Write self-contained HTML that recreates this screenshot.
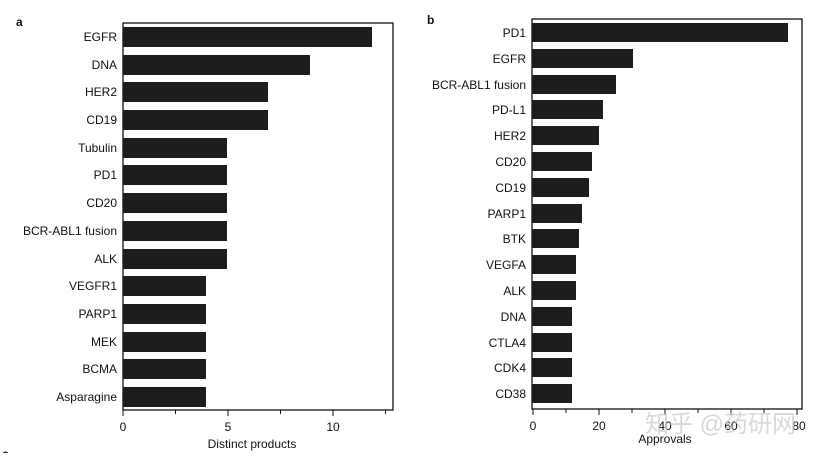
<!DOCTYPE html>
<html><head><meta charset="utf-8"><style>
body{margin:0;background:#fff;}
svg text{font-family:"Liberation Sans",Arial,sans-serif;font-size:12px;fill:#111;}
</style></head><body>
<svg width="820" height="453" viewBox="0 0 820 453" xmlns="http://www.w3.org/2000/svg">
<rect width="820" height="453" fill="#fff"/>
<text x="16" y="26" style="font-weight:bold">a</text>
<text x="427" y="24" style="font-weight:bold">b</text>
<text x="2" y="458" style="font-weight:bold">c</text>
<!-- chart a -->
<rect x="123" y="23" width="270" height="387" fill="none" stroke="#111" stroke-width="1.3"/>
<g fill="#1e1c1d">
<rect x="123" y="27" width="249" height="20"/>
<rect x="123" y="55" width="187" height="20"/>
<rect x="123" y="82" width="145" height="20"/>
<rect x="123" y="110" width="145" height="20"/>
<rect x="123" y="138" width="104" height="20"/>
<rect x="123" y="165" width="104" height="20"/>
<rect x="123" y="193" width="104" height="20"/>
<rect x="123" y="221" width="104" height="20"/>
<rect x="123" y="249" width="104" height="20"/>
<rect x="123" y="276" width="83" height="20"/>
<rect x="123" y="304" width="83" height="20"/>
<rect x="123" y="332" width="83" height="20"/>
<rect x="123" y="359" width="83" height="20"/>
<rect x="123" y="387" width="83" height="20"/>
</g>
<g text-anchor="end">
<text x="117" y="41">EGFR</text>
<text x="117" y="69">DNA</text>
<text x="117" y="96">HER2</text>
<text x="117" y="124">CD19</text>
<text x="117" y="152">Tubulin</text>
<text x="117" y="179">PD1</text>
<text x="117" y="207">CD20</text>
<text x="117" y="235">BCR-ABL1 fusion</text>
<text x="117" y="263">ALK</text>
<text x="117" y="290">VEGFR1</text>
<text x="117" y="318">PARP1</text>
<text x="117" y="346">MEK</text>
<text x="117" y="373">BCMA</text>
<text x="117" y="401">Asparagine</text>
</g>
<g stroke="#111" stroke-width="1">
<line x1="123" y1="410" x2="123" y2="416"/><line x1="175.5" y1="410" x2="175.5" y2="414"/>
<line x1="228" y1="410" x2="228" y2="416"/><line x1="280.5" y1="410" x2="280.5" y2="414"/>
<line x1="333" y1="410" x2="333" y2="416"/><line x1="385.5" y1="410" x2="385.5" y2="414"/>
</g>
<g text-anchor="middle">
<text x="123" y="431">0</text><text x="228" y="431">5</text><text x="333" y="431">10</text>
<text x="252" y="448">Distinct products</text>
</g>
<!-- chart b -->
<rect x="532" y="19" width="270" height="390" fill="none" stroke="#111" stroke-width="1.3"/>
<g fill="#1e1c1d">
<rect x="532" y="23" width="256" height="19"/>
<rect x="532" y="49" width="101" height="19"/>
<rect x="532" y="75" width="84" height="19"/>
<rect x="532" y="100" width="71" height="19"/>
<rect x="532" y="126" width="67" height="19"/>
<rect x="532" y="152" width="60" height="19"/>
<rect x="532" y="178" width="57" height="19"/>
<rect x="532" y="204" width="50" height="19"/>
<rect x="532" y="229" width="47" height="19"/>
<rect x="532" y="255" width="44" height="19"/>
<rect x="532" y="281" width="44" height="19"/>
<rect x="532" y="307" width="40" height="19"/>
<rect x="532" y="333" width="40" height="19"/>
<rect x="532" y="358" width="40" height="19"/>
<rect x="532" y="384" width="40" height="19"/>
</g>
<g text-anchor="end">
<text x="526" y="37">PD1</text>
<text x="526" y="63">EGFR</text>
<text x="526" y="89">BCR-ABL1 fusion</text>
<text x="526" y="114">PD-L1</text>
<text x="526" y="140">HER2</text>
<text x="526" y="166">CD20</text>
<text x="526" y="192">CD19</text>
<text x="526" y="218">PARP1</text>
<text x="526" y="243">BTK</text>
<text x="526" y="269">VEGFA</text>
<text x="526" y="295">ALK</text>
<text x="526" y="321">DNA</text>
<text x="526" y="347">CTLA4</text>
<text x="526" y="372">CDK4</text>
<text x="526" y="398">CD38</text>
</g>
<g stroke="#111" stroke-width="1">
<line x1="533" y1="409" x2="533" y2="415"/><line x1="566" y1="409" x2="566" y2="413"/>
<line x1="599" y1="409" x2="599" y2="415"/><line x1="632" y1="409" x2="632" y2="413"/>
<line x1="665" y1="409" x2="665" y2="415"/><line x1="698" y1="409" x2="698" y2="413"/>
<line x1="731" y1="409" x2="731" y2="415"/><line x1="764" y1="409" x2="764" y2="413"/>
<line x1="797" y1="409" x2="797" y2="415"/>
</g>
<g text-anchor="middle">
<text x="533" y="430">0</text><text x="599" y="430">20</text><text x="665" y="430">40</text>
<text x="731" y="430">60</text><text x="799" y="430">80</text>
<text x="665" y="443">Approvals</text>
</g>
<text x="645" y="432" style="font-family:'Liberation Sans','Noto Sans CJK SC',sans-serif;font-size:24px;fill:#ccc;opacity:0.75">知乎 @药研网</text>
</svg>
</body></html>
